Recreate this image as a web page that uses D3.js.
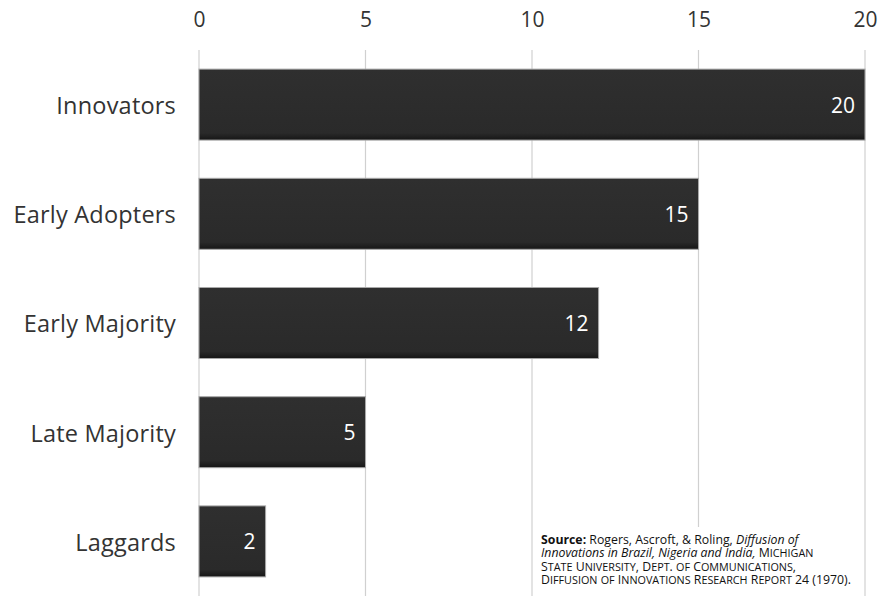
<!DOCTYPE html>
<html><head><meta charset="utf-8">
<script src="https://cdn.jsdelivr.net/npm/d3@7"></script>
<style>body{margin:0;background:#fff}svg{display:block}</style>
</head><body>
<script>
const categories = ["Innovators","Early Adopters","Early Majority","Late Majority","Laggards"];
const values = [20,15,12,5,2];
const tickValues = [0,5,10,15,20];
const sourceLines = [
 [["Source:","b"],[" Rogers, Ascroft, & Roling, ",""],["Diffusion of","i"]],
 [["Innovations in Brazil, Nigeria and India,","i"],[" Michigan","s"]],
 [["State University, Dept. of Communications,","s"]],
 [["Diffusion of Innovations Research Report 24 (1970).","s"]]
];

const W=881,H=596;
const FONT="'Open Sans', 'Noto Sans', sans-serif";
const m={left:199,right:16,top:50,bottom:0};
const svg=d3.select("body").append("svg").attr("width",W).attr("height",H);
const defs=svg.append("defs");
const g1=defs.append("linearGradient").attr("id","barg").attr("x1",0).attr("y1",0).attr("x2",0).attr("y2",1);
g1.append("stop").attr("offset","0%").attr("stop-color","#2f2f2f");
g1.append("stop").attr("offset","90%").attr("stop-color","#2a2a2a");
g1.append("stop").attr("offset","100%").attr("stop-color","#161616");

const x=d3.scaleLinear().domain([0,20]).range([m.left,W-m.right]);
const y=d3.scaleBand().domain(categories).range([m.top,H]).paddingInner(0.35).paddingOuter(0.175);

svg.append("g").selectAll("line").data(tickValues).join("line")
  .attr("x1",d=>x(d)).attr("x2",d=>x(d)).attr("y1",m.top).attr("y2",H)
  .attr("stroke","#d0d0d0").attr("stroke-width",1.2);

const ax=svg.append("g").attr("transform",`translate(0,27)`)
  .call(d3.axisTop(x).tickValues(tickValues).tickSize(0).tickPadding(0));
ax.select(".domain").remove();
ax.selectAll("text").attr("font-family",FONT).attr("font-size",21).attr("fill","#333").attr("dy","0");

svg.append("g").selectAll("rect").data(values).join("rect")
  .attr("x",x(0)).attr("y",(d,i)=>y(categories[i]))
  .attr("width",d=>x(d)-x(0)).attr("height",y.bandwidth())
  .attr("fill","url(#barg)").attr("stroke","#a8a8a8").attr("stroke-width",1);

svg.append("g").selectAll("text").data(values).join("text")
  .attr("x",d=>x(d)-10).attr("y",(d,i)=>y(categories[i])+y.bandwidth()/2)
  .attr("dy","0.38em").attr("text-anchor","end")
  .attr("font-family",FONT).attr("font-size",21).attr("fill","#fff")
  .text(d=>d);

const ay=svg.append("g").attr("transform",`translate(${m.left-23},0)`)
  .call(d3.axisLeft(y).tickSize(0).tickPadding(0));
ay.select(".domain").remove();
ay.selectAll("text").attr("font-family",FONT).attr("font-size",23.5).attr("fill","#333")
  .attr("dy","0.4em").attr("letter-spacing","0.2px");

svg.append("rect").attr("x",536).attr("y",527).attr("width",322).attr("height",69).attr("fill","#fff");
const src=svg.append("text").attr("font-family",FONT).attr("font-size",12.3).attr("fill","#111");
sourceLines.forEach((ln,li)=>{
  let first=true;
  ln.forEach(seg=>{
    const parts = seg[1]==="s" ? seg[0].match(/[a-z]+|[^a-z]+/g).map(p=>[p,/[a-z]/.test(p)]) : [[seg[0],false]];
    parts.forEach(([txt,low])=>{
      const t=src.append("tspan").text(low?txt.toUpperCase():txt);
      if(first){ t.attr("x",541).attr("y",544+li*13.4); first=false; }
      if(seg[1]==="b") t.attr("font-weight","bold");
      if(seg[1]==="i") t.attr("font-style","italic");
      if(low) t.attr("font-size",10.8);
    });
  });
});
</script>
</body></html>
